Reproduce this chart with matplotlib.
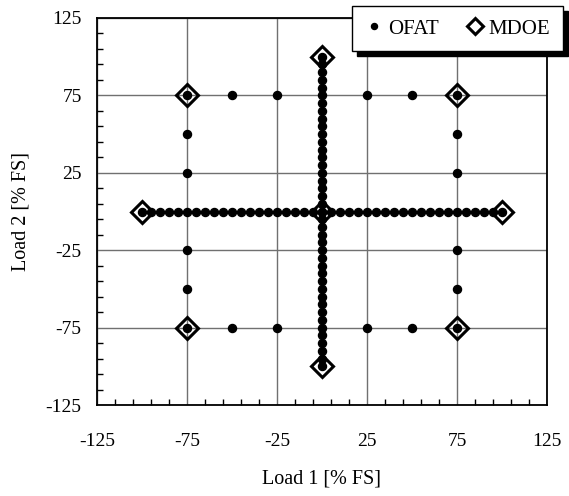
import numpy as np
import matplotlib
matplotlib.use("Agg")
import matplotlib.pyplot as plt
from matplotlib.patches import Rectangle

plt.rcParams["font.family"] = ["Liberation Serif", "DejaVu Serif"]
plt.rcParams["axes.unicode_minus"] = False

# one-factor-at-a-time sweep along each load axis
sweep = [-100, -95, -90, -85, -80, -75, -70, -65, -60, -55, -50, -45, -40, -35,
         -30, -25, -20, -15, -10, -5, 0, 5, 10, 15, 20, 25, 30, 35, 40, 45, 50,
         55, 60, 65, 70, 75, 80, 85, 90, 95, 100]

# extra OFAT points on the +/-75 square
square_x = [-75, -50, -25, 25, 50, 75, -75, -50, -25, 25, 50, 75,
            -75, -75, -75, -75, 75, 75, 75, 75]
square_y = [75, 75, 75, 75, 75, 75, -75, -75, -75, -75, -75, -75,
            50, 25, -25, -50, 50, 25, -25, -50]

# MDOE design points
mdoe_x = [-75, 75, -75, 75, -100, 100, 0, 0, 0]
mdoe_y = [75, 75, -75, -75, 0, 0, 100, -100, 0]

ofat_x = sweep + [0] * len(sweep) + square_x
ofat_y = [0] * len(sweep) + sweep + square_y

fig = plt.figure(figsize=(5.69, 4.96), dpi=100)
ax = fig.add_axes([97 / 569, 1 - 405 / 496, 450 / 569, 387 / 496])

ax.plot(ofat_x, ofat_y, "o", color="black", ms=5.8, ls="none", label="OFAT", zorder=3)
ax.plot(mdoe_x, mdoe_y, "D", mfc="none", mec="black", mew=2.2, ms=11.5, ls="none",
        label="MDOE", zorder=4)

ax.set_xlim(-125, 125)
ax.set_ylim(-125, 125)
ticks = np.arange(-125, 126, 50)
ax.set_xticks(ticks)
ax.set_yticks(ticks)
ax.set_xticks(np.arange(-125, 126, 10), minor=True)
ax.set_yticks(np.arange(-125, 126, 10), minor=True)
ax.tick_params(which="both", direction="in", labelsize=14, width=1, color="black")
ax.tick_params(axis="x", which="major", length=0, pad=20)
ax.tick_params(axis="y", which="major", length=0, pad=11)
ax.tick_params(which="minor", length=4)
ax.grid(True, which="major", color="#707070", lw=1)
for s in ax.spines.values():
    s.set_linewidth(1.3)
    s.set_zorder(5)

ax.set_xlabel("Load 1 [% FS]", fontsize=14.5, labelpad=14)
ax.set_ylabel("Load 2 [% FS]", fontsize=14.5, labelpad=11)

leg = fig.legend(loc="upper right", bbox_to_anchor=(563 / 569, 1 - 6 / 496),
                 borderaxespad=0, ncol=2, fontsize=15, frameon=True,
                 fancybox=False, edgecolor="black", framealpha=1,
                 handletextpad=0.2, columnspacing=1.3, handlelength=0.9,
                 borderpad=0.62, markerscale=0.75)
leg.get_frame().set_linewidth(1)
leg.set_zorder(6)

# hard drop shadow under the legend box
fig.canvas.draw()
bb = leg.get_window_extent()
fig.patches.append(Rectangle((bb.x0 + 5, bb.y0 - 5), bb.width, bb.height,
                             transform=None, color="black", zorder=5))

fig.savefig("out.png", dpi=100)
